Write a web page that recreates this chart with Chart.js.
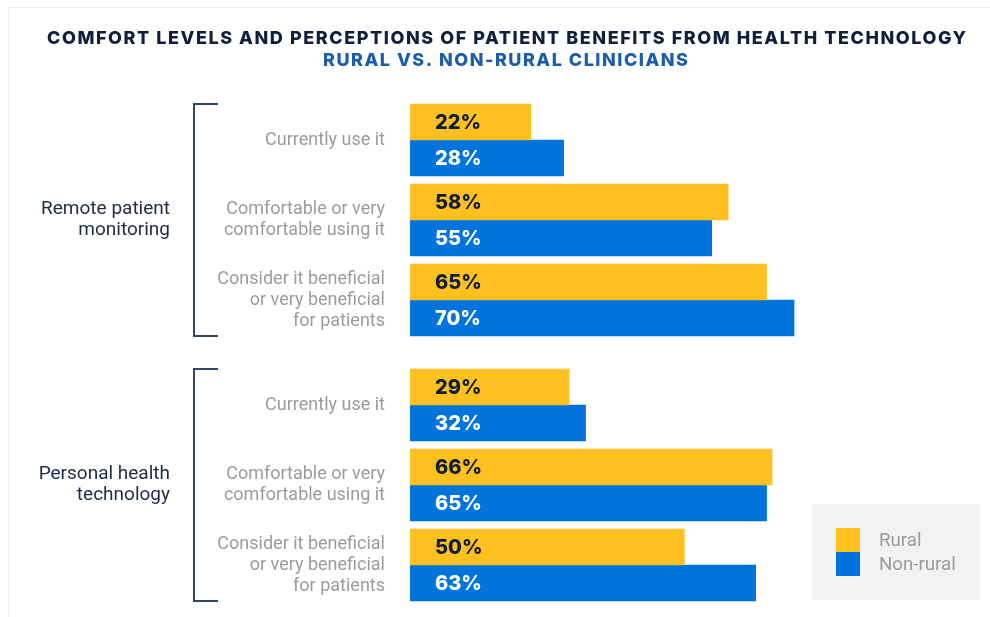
<!DOCTYPE html>
<html>
<head>
<meta charset="utf-8">
<script src="https://cdn.jsdelivr.net/npm/chart.js@4.4.1/dist/chart.umd.min.js"></script>
<style>
  html, body { margin: 0; padding: 0; background: #ffffff; }
  #wrap { position: relative; width: 990px; height: 617px; }
  canvas { display: block; }
</style>
</head>
<body>
<div id="wrap"><canvas id="c" width="990" height="617"></canvas></div>
<script>
// ---- data ----
const titleText = "COMFORT LEVELS AND PERCEPTIONS OF PATIENT BENEFITS FROM HEALTH TECHNOLOGY";
const subtitleText = "RURAL VS. NON-RURAL CLINICIANS";
const groups = [["Remote patient", "monitoring"], ["Personal health", "technology"]];
const categories = [
  ["Currently use it"],
  ["Comfortable or very", "comfortable using it"],
  ["Consider it beneficial", "or very beneficial", "for patients"]
];
const seriesNames = ["Rural", "Non-rural"];
const ruralValues = [22, 58, 65, 29, 66, 50];
const nonRuralValues = [28, 55, 70, 32, 65, 63];

// ---- layout constants ----
const GROUP_GAP = 0.3125;   // extra space between the two groups, in row units
const rowsPerGroup = categories.length;
const rowPos = [];
const rowLabels = [];
groups.forEach((g, gi) => {
  categories.forEach((c, ci) => {
    rowPos.push(gi * (rowsPerGroup + GROUP_GAP) + ci);
    rowLabels.push(c);
  });
});

const COLORS = { rural: '#FFC020', nonRural: '#0073DC', navy: '#0E1E3D', blue2: '#1B5DA8', gray: '#9B9B9B' };

function drawLines(ctx, lines, x, yc, lh) {
  lines.forEach((line, li) => {
    ctx.fillText(line, x, yc + (li - (lines.length - 1) / 2) * lh);
  });
}

const decorPlugin = {
  id: 'decor',
  beforeDraw(chart) {
    const ctx = chart.ctx;
    ctx.save();
    ctx.fillStyle = '#ffffff';
    ctx.fillRect(0, 0, chart.width, chart.height);
    ctx.strokeStyle = '#ededed';
    ctx.lineWidth = 1;
    ctx.beginPath();
    ctx.moveTo(8.5, chart.height); ctx.lineTo(8.5, 7.5); ctx.lineTo(chart.width, 7.5);
    ctx.stroke();
    ctx.restore();
  },
  afterDraw(chart) {
    const ctx = chart.ctx;
    const y = chart.scales.y;
    const area = chart.chartArea;
    ctx.save();
    // Title lines with tracking fitted to the reference width
    function tracked(text, font, color, x0, x1, yc) {
      ctx.font = font;
      ctx.letterSpacing = '0px';
      const w0 = ctx.measureText(text).width;
      const sp = (x1 - x0 - w0) / (text.length - 1);
      ctx.letterSpacing = sp + 'px';
      ctx.fillStyle = color;
      ctx.textAlign = 'left';
      ctx.textBaseline = 'middle';
      ctx.fillText(text, x0, yc);
      ctx.letterSpacing = '0px';
    }
    tracked(titleText, '800 18px Inter', COLORS.navy, 47, 966, 39);
    tracked(subtitleText, '800 18px Inter', COLORS.blue2, 323, 688, 61);

    // Category labels (y axis)
    ctx.font = '18px Roboto';
    ctx.fillStyle = COLORS.gray;
    ctx.textAlign = 'right';
    ctx.textBaseline = 'middle';
    rowPos.forEach((p, i) => {
      drawLines(ctx, rowLabels[i], area.left - 25, y.getPixelForValue(p), 21);
    });

    // Group labels and brackets
    const half = 36;
    groups.forEach((g, gi) => {
      const first = rowPos[gi * rowsPerGroup];
      const last = rowPos[gi * rowsPerGroup + rowsPerGroup - 1];
      const mid = rowPos[gi * rowsPerGroup + Math.floor(rowsPerGroup / 2)];
      const top = y.getPixelForValue(first) - half;
      const bot = y.getPixelForValue(last) + half;
      ctx.strokeStyle = '#33456A';
      ctx.lineWidth = 2;
      ctx.beginPath();
      ctx.moveTo(218, top); ctx.lineTo(194, top); ctx.lineTo(194, bot); ctx.lineTo(218, bot);
      ctx.stroke();
      ctx.font = '19px Roboto';
      ctx.fillStyle = '#1C2B4B';
      ctx.textAlign = 'right';
      ctx.textBaseline = 'middle';
      drawLines(ctx, g, 170, y.getPixelForValue(mid), 21);
    });

    // Legend
    ctx.fillStyle = '#F2F2F2';
    ctx.fillRect(812, 504, 168, 96);
    chart.data.datasets.forEach((ds, i) => {
      ctx.fillStyle = ds.backgroundColor;
      ctx.fillRect(836, 528 + i * 24, 24, 24);
      ctx.fillStyle = COLORS.gray;
      ctx.font = '18.7px Roboto';
      ctx.textAlign = 'left';
      ctx.textBaseline = 'middle';
      ctx.fillText(ds.label, 879, 541 + i * 24);
    });
    ctx.restore();
  },
  afterDatasetsDraw(chart) {
    const ctx = chart.ctx;
    ctx.save();
    ctx.font = '800 20px Inter';
    ctx.textAlign = 'left';
    ctx.textBaseline = 'middle';
    chart.data.datasets.forEach((ds, di) => {
      const meta = chart.getDatasetMeta(di);
      ctx.fillStyle = di === 0 ? COLORS.navy : '#ffffff';
      meta.data.forEach((bar, i) => {
        ctx.fillText(ds.data[i].x + '%', bar.base + 25, bar.y + 1);
      });
    });
    ctx.restore();
  }
};

new Chart(document.getElementById('c'), {
  type: 'bar',
  data: {
    datasets: [
      { label: seriesNames[0], data: ruralValues.map((v, i) => ({ x: v, y: rowPos[i] })), backgroundColor: COLORS.rural },
      { label: seriesNames[1], data: nonRuralValues.map((v, i) => ({ x: v, y: rowPos[i] })), backgroundColor: COLORS.nonRural }
    ]
  },
  options: {
    indexAxis: 'y',
    responsive: false,
    animation: false,
    barThickness: 36,
    grouped: true,
    layout: { padding: { left: 410, right: 31.4, top: 100, bottom: 12 } },
    plugins: { legend: { display: false }, tooltip: { enabled: false }, title: { display: false } },
    scales: {
      x: { type: 'linear', min: 0, max: 100, display: false },
      y: {
        type: 'linear',
        reverse: true,
        offset: false,
        min: -0.5,
        max: rowPos[rowPos.length - 1] + 0.5,
        display: false
      }
    }
  },
  plugins: [decorPlugin]
});
</script>
</body>
</html>
